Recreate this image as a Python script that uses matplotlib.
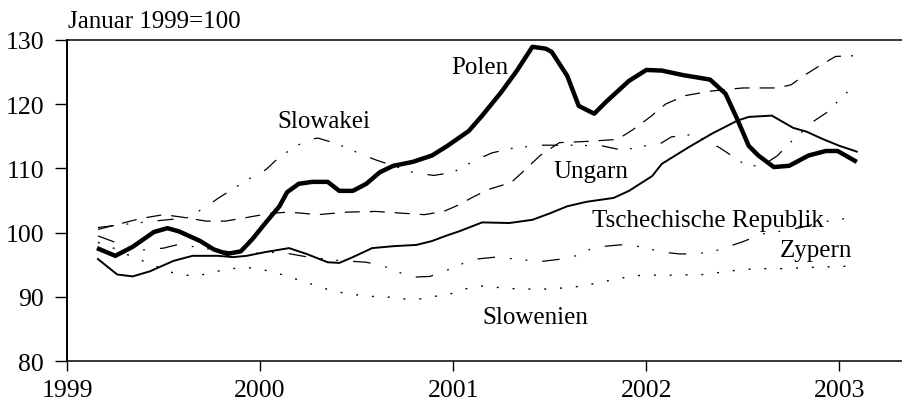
import matplotlib.pyplot as plt

polen_t = [1999.155, 1999.25, 1999.34, 1999.45, 1999.52, 1999.58, 1999.69, 1999.76, 1999.83, 1999.90,
           1999.96, 2000.03, 2000.10, 2000.14, 2000.20, 2000.27, 2000.35, 2000.41, 2000.48, 2000.55,
           2000.62, 2000.69, 2000.79, 2000.89, 2000.97, 2001.08, 2001.15, 2001.25, 2001.33, 2001.41,
           2001.48, 2001.51, 2001.59, 2001.65, 2001.73, 2001.79, 2001.91, 2002.00, 2002.08, 2002.19,
           2002.33, 2002.41, 2002.47, 2002.53, 2002.58, 2002.66, 2002.74, 2002.84, 2002.93, 2002.99,
           2003.09]
polen_v = [97.6, 96.4, 97.8, 100.1, 100.7, 100.2, 98.7, 97.4, 96.7, 97.1,
           99.0, 101.6, 104.1, 106.3, 107.6, 107.9, 107.9, 106.5, 106.5, 107.6,
           109.4, 110.4, 111.0, 112.0, 113.5, 115.8, 118.2, 121.9, 125.2, 128.9,
           128.6, 128.1, 124.4, 119.7, 118.5, 120.3, 123.6, 125.3, 125.2, 124.5,
           123.8, 121.6, 117.7, 113.5, 112.0, 110.2, 110.4, 112.0, 112.7, 112.7,
           111.0]

tschechien_t = [1999.16, 1999.26, 1999.34, 1999.43, 1999.55, 1999.65, 1999.78, 1999.86, 1999.93, 2000.03,
                2000.15, 2000.24, 2000.35, 2000.41, 2000.48, 2000.58, 2000.69, 2000.81, 2000.89, 2000.97,
                2001.03, 2001.15, 2001.29, 2001.41, 2001.50, 2001.59, 2001.69, 2001.83, 2001.91, 2002.03,
                2002.08, 2002.22, 2002.34, 2002.47, 2002.53, 2002.65, 2002.76, 2002.83, 2002.91, 2003.00,
                2003.09]
tschechien_v = [95.9, 93.5, 93.2, 94.0, 95.6, 96.4, 96.4, 96.2, 96.4, 97.0,
                97.6, 96.7, 95.4, 95.3, 96.2, 97.6, 97.9, 98.1, 98.7, 99.6,
                100.2, 101.6, 101.5, 102.0, 103.0, 104.1, 104.8, 105.4, 106.5, 108.8,
                110.7, 113.3, 115.4, 117.4, 118.0, 118.2, 116.3, 115.7, 114.6, 113.5,
                112.6]

ungarn_t = [1999.16, 1999.25, 1999.38, 1999.50, 1999.60, 1999.72, 1999.82, 1999.92, 2000.05, 2000.15,
            2000.30, 2000.45, 2000.60, 2000.75, 2000.85, 2000.95, 2001.02, 2001.10, 2001.18, 2001.30,
            2001.38, 2001.45, 2001.55, 2001.70, 2001.85, 2001.93, 2002.02, 2002.10, 2002.20, 2002.33,
            2002.50, 2002.68, 2002.75, 2002.82, 2002.90, 2002.98, 2003.07]
ungarn_v = [100.5, 101.2, 102.2, 102.8, 102.4, 101.8, 101.8, 102.3, 103.0, 103.2,
            102.8, 103.2, 103.3, 103.0, 102.8, 103.3, 104.2, 105.5, 106.7, 107.8,
            110.0, 112.0, 114.0, 114.2, 114.5, 116.0, 118.0, 120.0, 121.3, 122.0,
            122.5, 122.5, 123.0, 124.5, 126.0, 127.4, 127.5]

slowakei_t = [1999.16, 1999.30, 1999.45, 1999.62, 1999.72, 1999.78, 1999.87, 1999.95, 2000.03, 2000.08,
              2000.16, 2000.25, 2000.30, 2000.40, 2000.50, 2000.60, 2000.70, 2000.80, 2000.90, 2001.00,
              2001.05, 2001.11, 2001.20, 2001.30, 2001.45, 2001.60, 2001.77, 2001.88, 2001.97, 2002.07,
              2002.13, 2002.22, 2002.30, 2002.38, 2002.45, 2002.52, 2002.60, 2002.68, 2002.73, 2002.80,
              2002.86, 2002.94, 2003.00, 2003.06]
slowakei_v = [100.8, 101.3, 101.8, 102.3, 104.0, 105.3, 107.0, 108.5, 109.8, 111.2,
              113.0, 114.5, 114.7, 113.8, 112.5, 111.3, 110.3, 109.3, 108.9, 109.4,
              110.2, 111.2, 112.4, 113.1, 113.6, 113.6, 113.5, 112.8, 113.4, 113.8,
              114.9, 115.2, 114.5, 113.2, 111.8, 110.4, 110.4, 112.0, 113.6, 115.5,
              117.2, 118.8, 120.7, 122.4]

zypern_t = [1999.16, 1999.25, 1999.35, 1999.50, 1999.58, 1999.70, 1999.85, 2000.00, 2000.10, 2000.25,
            2000.40, 2000.55, 2000.64, 2000.71, 2000.80, 2000.88, 2000.97, 2001.04, 2001.12, 2001.22,
            2001.32, 2001.45, 2001.56, 2001.65, 2001.72, 2001.79, 2001.90, 2002.00, 2002.08, 2002.17,
            2002.25, 2002.34, 2002.42, 2002.50, 2002.60, 2002.67, 2002.80, 2002.92, 2003.05]
zypern_v = [99.5, 98.5, 97.2, 97.6, 98.2, 97.6, 97.0, 96.8, 97.0, 96.2,
            95.7, 95.4, 94.8, 93.9, 93.1, 93.2, 94.2, 95.1, 95.9, 96.2,
            95.9, 95.5, 95.9, 96.5, 97.6, 97.9, 98.2, 97.6, 97.0, 96.7,
            96.7, 97.0, 97.8, 98.6, 99.8, 100.1, 100.8, 101.7, 102.3]

slowenien_t = [1999.16, 1999.25, 1999.34, 1999.43, 1999.52, 1999.60, 1999.68, 1999.76, 1999.85, 1999.93,
               2000.00, 2000.07, 2000.15, 2000.24, 2000.31, 2000.40, 2000.48, 2000.57, 2000.66, 2000.74,
               2000.83, 2000.90, 2000.97, 2001.05, 2001.15, 2001.30, 2001.45, 2001.57, 2001.67, 2001.76,
               2001.85, 2001.93, 2002.02, 2002.15, 2002.30, 2002.40, 2002.48, 2002.57, 2002.70, 2002.85,
               2003.05]
slowenien_v = [98.5, 97.5, 96.2, 95.2, 94.0, 93.4, 93.3, 93.9, 94.4, 94.6,
               94.3, 93.9, 93.1, 92.3, 91.5, 90.8, 90.4, 90.1, 90.0, 89.7,
               89.7, 90.1, 90.3, 91.2, 91.7, 91.3, 91.2, 91.4, 91.7, 92.3,
               92.8, 93.3, 93.4, 93.4, 93.5, 93.9, 94.2, 94.4, 94.4, 94.6,
               94.8]

x_ticks = [1999, 2000, 2001, 2002, 2003]
y_ticks = [80, 90, 100, 110, 120, 130]

# label texts with their left/baseline anchor in data coordinates
labels = [
    ("Polen", 2000.99, 124.9),
    ("Slowakei", 2000.09, 116.4),
    ("Ungarn", 2001.52, 108.7),
    ("Tschechische Republik", 2001.72, 101.0),
    ("Zypern", 2002.69, 96.4),
    ("Slowenien", 2001.15, 85.9),
]

plt.rcParams['font.family'] = ['Liberation Serif', 'DejaVu Serif']

fig = plt.figure(figsize=(9.03, 4.10), dpi=100)
ax = fig.add_axes([0.0742, 0.1163, 0.9258, 0.7844])

lw_thin = 0.9
ax.plot(slowenien_t, slowenien_v, color='black', lw=1.0, linestyle=(0, (1.4, 10)))
ax.plot(zypern_t, zypern_v, color='black', lw=lw_thin,
        linestyle=(0, (14, 12, 1.5, 11, 1.5, 12)))
ax.plot(slowakei_t, slowakei_v, color='black', lw=lw_thin,
        linestyle=(0, (13, 10, 1.5, 10, 1.5, 12)))
ax.plot(ungarn_t, ungarn_v, color='black', lw=lw_thin, linestyle=(0, (12, 8)))
ax.plot(tschechien_t, tschechien_v, color='black', lw=1.4, solid_joinstyle='round')
ax.plot(polen_t, polen_v, color='black', lw=3.2, solid_joinstyle='round',
        solid_capstyle='butt')

for text, tx, ty in labels:
    ax.text(tx, ty, text, fontsize=18, ha='left', va='baseline')

fig.text(0.0753, 0.932, "Januar 1999=100", fontsize=18, ha='left', va='baseline')

ax.set_xlim(1999, 2003.329)
ax.set_ylim(80, 130)
ax.set_xticks(x_ticks)
ax.set_yticks(y_ticks)
ax.tick_params(axis='x', direction='out', length=7, width=1.0, pad=6, labelsize=18.5)
ax.tick_params(axis='y', direction='out', length=8.5, width=1.0, pad=8, labelsize=18.5)

ax.spines['right'].set_visible(False)
ax.spines['left'].set_linewidth(1.4)
ax.spines['bottom'].set_linewidth(1.1)
ax.spines['top'].set_linewidth(1.1)

fig.savefig('out.png', dpi=100)
